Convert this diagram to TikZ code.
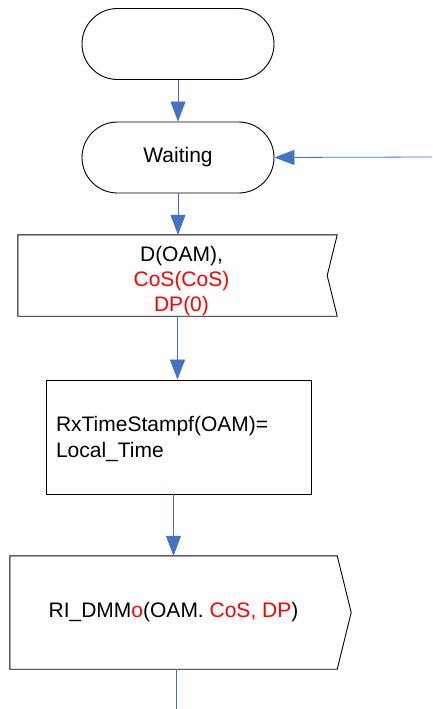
\documentclass[tikz,border=0pt]{standalone}
\usepackage{fontspec}
\setmainfont{Liberation Sans}
\usetikzlibrary{shapes.misc,arrows.meta}
\definecolor{flowblue}{RGB}{68,114,196}
\definecolor{sigred}{RGB}{255,0,0}

\begin{document}
\begin{tikzpicture}[x=1pt,y=-1pt,
  every node/.style={font=\fontsize{21}{25}\selectfont},
  term/.style={rounded rectangle,draw,line width=0.9pt,minimum width=192pt,minimum height=71pt,inner sep=0pt},
  boxshape/.style={rectangle,inner sep=0pt},
  outline/.style={draw,line width=0.9pt,line join=miter},
  flow/.style={draw=flowblue,line width=0.8pt,-{Triangle[length=20pt,width=15pt]}},
  plain/.style={draw=flowblue,line width=0.8pt}]
\useasboundingbox (0,0) rectangle (432,709);

% terminals
\node[term] (start) at (178,44) {};
\node[term] (wait) at (178,157.5) {Waiting};

% input signal
\node[boxshape,minimum width=319pt,minimum height=81pt] (din) at (177.5,275.5) {};
\draw[outline] (din.north west) -- (din.north east) -- ([xshift=-10pt]din.east) -- (din.south east) -- (din.south west) -- cycle;
\node[align=center,inner sep=0pt] (dintxt) at ([xshift=4pt,yshift=-6pt]din.center)
  {D(OAM),\\ \textcolor{sigred}{CoS(CoS)}\\ \textcolor{sigred}{DP(0)}};

% task
\node[boxshape,draw,line width=0.9pt,minimum width=265pt,minimum height=114pt] (proc) at (178.5,437) {};
\node[align=left,text width=245pt,inner sep=0pt,font=\fontsize{21}{26.7}\selectfont] (proctxt) at ([yshift=-2pt]proc.center)
  {RxTimeStampf(OAM)=\\Local\_Time};

% output signal
\node[boxshape,minimum width=327pt,minimum height=113pt] (out) at (173.5,612.5)
  {RI\_DMM\textcolor{sigred}{o}(OAM. \textcolor{sigred}{CoS, DP})};
\draw[outline] (out.north west) -- (out.north east) -- ([xshift=14pt]out.east) -- (out.south east) -- (out.south west) -- cycle;

% connectors
\coordinate (loopin) at (432,157);
\coordinate (exit) at (176,709);
\draw[flow] (start.south) -- (wait.north);
\draw[flow] (wait.south) -- (din.north -| wait.south);
\draw[flow] (din.south) -- (din.south |- proc.north);
\draw[flow] (proc.south -| out.north) -- (out.north);
\draw[plain] (out.south -| exit) -- (exit);
\draw[flow] (loopin) -- (wait.east);
\end{tikzpicture}
\end{document}
